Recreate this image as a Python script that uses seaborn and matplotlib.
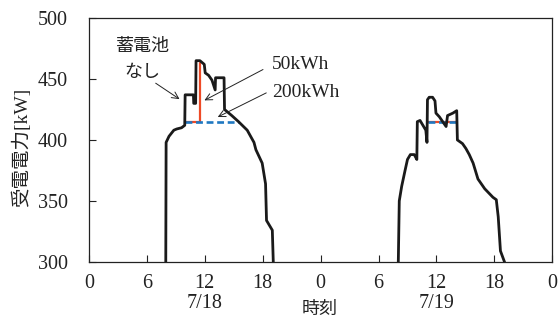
import numpy as np
import pandas as pd
import seaborn as sns
import matplotlib
matplotlib.use("Agg")
from matplotlib import pyplot as plt
from matplotlib import transforms

# 7/18 : no battery (hour, kW)
hours_d1 = [7.95, 8.0, 8.3, 8.8, 9.1, 9.6, 9.93, 9.97, 10.5, 10.83, 10.86, 11.06, 11.1,
            11.5, 11.95, 12.05, 12.4, 12.75, 13.08, 13.12, 14.0, 14.05, 14.8, 15.5,
            16.4, 17.1, 17.3, 17.95, 18.3, 18.4, 19.0, 19.1, 19.2]
kw_d1 = [260, 398, 403, 408, 409, 410, 412, 437, 437, 437, 430, 430, 465,
         465, 462, 455, 453, 449, 441, 451, 451, 425, 420, 415,
         408, 398, 392, 381, 364, 334, 326, 300, 280]

# 7/19 : no battery
hours_d2 = [32.0, 32.05, 32.15, 32.4, 32.75, 33.0, 33.3, 33.7, 33.97, 34.02, 34.3, 34.9,
            35.02, 35.07, 35.25, 35.6, 35.85, 35.95, 36.3, 36.65, 37.0, 37.15, 37.7,
            38.1, 38.17, 38.7, 39.05, 39.4, 39.8, 40.3, 41.0, 41.85, 42.2, 42.4, 42.63,
            43.05, 43.3]
kw_d2 = [260, 300, 350, 362, 375, 384, 388, 388, 384, 415, 416, 408,
         398, 433, 435, 435, 432, 422, 419, 415, 411, 420, 422,
         424, 400, 397, 393, 388, 381, 368, 360, 353, 351, 337, 309,
         300, 285]

# battery 50kWh (only where it differs)
hours_50 = [[9.95, 11.47, 11.47], [35.08, 38.13]]
kw_50 = [[415, 415, 463], [414.5, 414.5]]

# battery 200kWh (only where it differs)
hours_200 = [[9.95, 15.5], [35.08, 38.13]]
kw_200 = [[415, 415], [414.5, 414.5]]

xticks = list(range(0, 49, 6))
xticklabels = ["0", "6", "12", "18", "0", "6", "12", "18", "0"]
yticks = [300, 350, 400, 450, 500]
dates = ["7/18", "7/19"]
date_pos = [12, 36]

sns.set_theme(style="white")
plt.rcParams['font.family'] = ['Liberation Serif', 'Noto Sans CJK JP']
plt.rcParams['axes.unicode_minus'] = False

fig = plt.figure(figsize=(5.59, 3.27), dpi=100)
ax = fig.add_axes([0.159, 0.199, 0.829, 0.746])

for h, k in zip(hours_50, kw_50):
    sns.lineplot(x=h, y=k, ax=ax, sort=False, estimator=None, color="#ee4a26", lw=1.6)
for h, k in zip(hours_200, kw_200):
    sns.lineplot(x=h, y=k, ax=ax, sort=False, estimator=None, color="#1f78c1", lw=1.9,
                 linestyle=(0, (2.6, 1.4)))
for h, k in [(hours_d1, kw_d1), (hours_d2, kw_d2)]:
    sns.lineplot(x=h, y=k, ax=ax, sort=False, estimator=None, color="#1a1a1a", lw=2.0)

ax.set_xlim(0, 48)
ax.set_ylim(300, 500)
ax.set_xticks(xticks)
ax.set_xticklabels(xticklabels)
ax.set_yticks(yticks)
ax.tick_params(axis='x', bottom=True, direction='in', length=5, width=0.8, pad=9,
               labelsize=14.5, colors='#222222')
ax.tick_params(axis='y', left=True, direction='in', length=5, width=0.8, pad=15,
               labelsize=14.5, colors='#222222')
for s in ax.spines.values():
    s.set_color('#222222')
    s.set_linewidth(0.9)

ax.set_ylabel("受電電力[kW]", fontsize=14, color='#222222')
ax.yaxis.set_label_coords(-0.124, 0.47)
ax.set_xlabel("")
ax.text(0.499, -0.197, "時刻", transform=ax.transAxes, ha='center', va='center',
        fontsize=13, color='#222222')

trans = transforms.blended_transform_factory(ax.transData, ax.transAxes)
for d, p in zip(dates, date_pos):
    ax.text(p, -0.17, d, transform=trans, ha='center', va='center', fontsize=14.5, color='#222222')

ax.text(5.64, 476.5, "蓄電池", ha='center', va='center', fontsize=13, color='#222222')
ax.text(5.56, 455.0, "なし", ha='center', va='center', fontsize=13, color='#222222')
ax.annotate("", xy=(9.63, 432.2), xytext=(6.68, 447.8),
            arrowprops=dict(arrowstyle='->', color='#222222', lw=0.7))
ax.text(18.98, 461.5, "50kWh", ha='left', va='center', fontsize=14, color='#222222')
ax.annotate("", xy=(11.71, 431.4), xytext=(18.29, 458.8),
            arrowprops=dict(arrowstyle='->', color='#222222', lw=0.7))
ax.text(18.98, 438.5, "200kWh", ha='left', va='center', fontsize=14, color='#222222')
ax.annotate("", xy=(13.09, 417.8), xytext=(18.63, 439.6),
            arrowprops=dict(arrowstyle='->', color='#222222', lw=0.7))

fig.savefig("out.png", dpi=100)
